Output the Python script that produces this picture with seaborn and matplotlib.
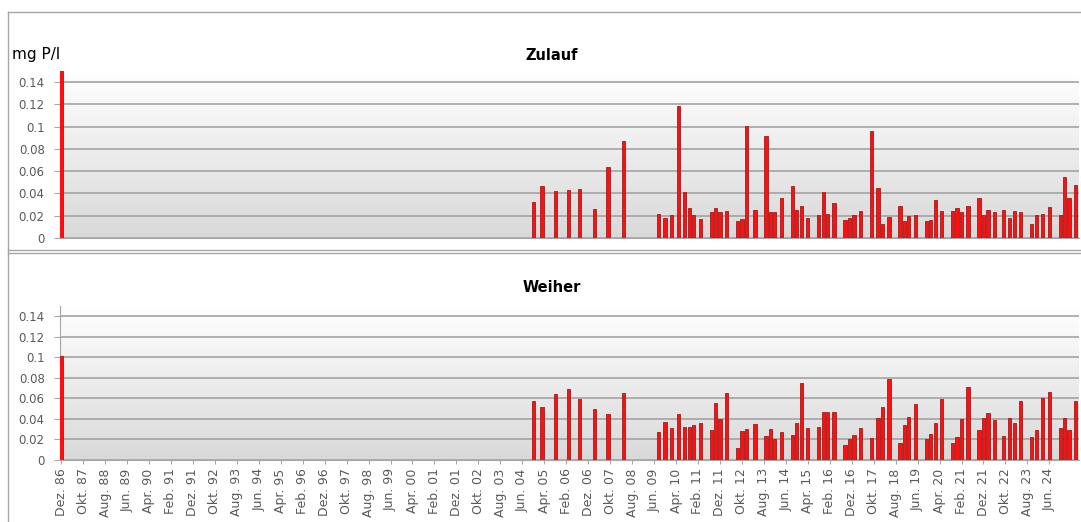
import numpy as np
import pandas as pd
import matplotlib.pyplot as plt
from matplotlib.colors import LinearSegmentedColormap
from matplotlib.lines import Line2D
import seaborn as sns

plt.rcParams["font.family"] = ["DejaVu Sans"]

# sampling months (shared by both stations)
dates = [
    "1986-12", "2004-11", "2005-03", "2005-09", "2006-03", "2006-08", "2007-03",
    "2007-09", "2008-04", "2009-08", "2009-11", "2010-02", "2010-05", "2010-08",
    "2010-10", "2010-12", "2011-03", "2011-08", "2011-10", "2011-12", "2012-03",
    "2012-08", "2012-10", "2012-12", "2013-04", "2013-09", "2013-11", "2014-01",
    "2014-04", "2014-09", "2014-11", "2015-01", "2015-04", "2015-09", "2015-11",
    "2016-01", "2016-04", "2016-09", "2016-11", "2017-01", "2017-04", "2017-09",
    "2017-12", "2018-02", "2018-05", "2018-10", "2018-12", "2019-02", "2019-05",
    "2019-10", "2019-12", "2020-02", "2020-05", "2020-10", "2020-12", "2021-02",
    "2021-05", "2021-10", "2021-12", "2022-02", "2022-05", "2022-09", "2022-12",
    "2023-02", "2023-05", "2023-10", "2023-12", "2024-03", "2024-06", "2024-11",
    "2025-01", "2025-03", "2025-06",
]

# mg P/l
zulauf = [
    0.150, 0.032, 0.047, 0.042, 0.043, 0.044, 0.026,
    0.064, 0.087, 0.022, 0.018, 0.021, 0.119, 0.041,
    0.027, 0.021, 0.017, 0.023, 0.027, 0.023, 0.024,
    0.015, 0.017, 0.101, 0.025, 0.092, 0.023, 0.023,
    0.036, 0.047, 0.025, 0.029, 0.018, 0.021, 0.041,
    0.022, 0.031, 0.016, 0.018, 0.021, 0.024, 0.096,
    0.045, 0.013, 0.019, 0.029, 0.015, 0.020, 0.021,
    0.015, 0.016, 0.034, 0.024, 0.024, 0.027, 0.023,
    0.029, 0.036, 0.021, 0.025, 0.023, 0.025, 0.018,
    0.024, 0.023, 0.013, 0.021, 0.022, 0.028, 0.021,
    0.055, 0.036, 0.048,
]

weiher = [
    0.101, 0.057, 0.052, 0.064, 0.069, 0.059, 0.050,
    0.045, 0.065, 0.027, 0.037, 0.031, 0.045, 0.032,
    0.032, 0.034, 0.036, 0.029, 0.056, 0.040, 0.065,
    0.012, 0.028, 0.030, 0.035, 0.023, 0.030, 0.020,
    0.027, 0.024, 0.036, 0.075, 0.031, 0.032, 0.047,
    0.047, 0.047, 0.015, 0.020, 0.024, 0.031, 0.021,
    0.041, 0.052, 0.079, 0.017, 0.034, 0.042, 0.055,
    0.020, 0.025, 0.036, 0.059, 0.017, 0.022, 0.040,
    0.071, 0.029, 0.041, 0.046, 0.039, 0.023, 0.041,
    0.036, 0.057, 0.022, 0.029, 0.060, 0.066, 0.031,
    0.041, 0.029, 0.057,
]

month_names = ["Jan", "Feb", "Mrz", "Apr", "Mai", "Jun",
               "Jul", "Aug", "Sep", "Okt", "Nov", "Dez"]

# monthly category axis
months = pd.period_range("1986-12", "2025-07", freq="M")
month_keys = [str(p) for p in months]
tick_pos = list(range(0, 451, 10))
tick_labels = [f"{month_names[months[i].month - 1]}. {months[i].year % 100:02d}"
               for i in tick_pos]

W, H = 1081, 522
fig = plt.figure(figsize=(W / 100, H / 100), dpi=100)

bg_cmap = LinearSegmentedColormap.from_list("bg", ["#ffffff", "#d9d9d9"])
grey_txt = "#595959"


def draw_panel(ax, values, title, title_y, show_x):
    df = pd.DataFrame({"month": dates, "value": values})
    n = len(month_keys)
    ax.imshow(np.linspace(0, 1, 256).reshape(-1, 1), extent=(-0.5, n - 0.5, 0, 0.15),
              aspect="auto", cmap=bg_cmap, zorder=0)
    sns.barplot(data=df, x="month", y="value", order=month_keys, color="#ff1010",
                saturation=1, width=1.5, edgecolor="#a01c1c", linewidth=0.6,
                errorbar=None, ax=ax, zorder=3)
    ax.set_xlim(-0.5, n - 0.5)
    ax.set_ylim(0, 0.15)
    yt = np.round(np.arange(0, 0.141, 0.02), 2)
    ax.set_yticks(yt)
    ax.set_yticklabels([f"{v:g}" for v in yt], fontsize=8.5, color=grey_txt)
    ax.grid(axis="y", color="#a3a3a3", linewidth=1.2)
    ax.set_axisbelow(True)
    ax.set_xlabel("")
    ax.set_ylabel("")
    for s in ["top", "right"]:
        ax.spines[s].set_visible(False)
    for s in ["left", "bottom"]:
        ax.spines[s].set_color("#a6a6a6")
    ax.tick_params(axis="y", length=4, color="#a6a6a6", pad=7)
    if show_x:
        ax.set_xticks(tick_pos)
        ax.set_xticklabels(tick_labels, rotation=90, fontsize=9, color=grey_txt)
        ax.tick_params(axis="x", length=3, color="#a6a6a6", pad=3)
    else:
        ax.set_xticks([])
    fig.text(552 / W, 1 - title_y / H, title, ha="center", va="center",
             fontsize=10.5, fontweight="bold")


ax_top = fig.add_axes([60 / W, 1 - 238 / H, 1019 / W, 167 / H])
ax_bot = fig.add_axes([60 / W, 1 - 460 / H, 1019 / W, 154 / H])
draw_panel(ax_top, zulauf, "Zulauf", 55, False)
draw_panel(ax_bot, weiher, "Weiher", 288, True)

fig.text(12 / W, 1 - 54 / H, "mg P/l", ha="left", va="center", fontsize=11)

# chart frames
frame = "#a6a6a6"
for (x0, y0, x1, y1) in [(8, 12, 1090, 12), (8, 12, 8, 522),
                         (8, 250, 1090, 250), (8, 253, 1090, 253)]:
    fig.add_artist(Line2D([x0 / W, x1 / W], [1 - y0 / H, 1 - y1 / H],
                          transform=fig.transFigure, color=frame, linewidth=1))

fig.savefig("out.png", dpi=100)
